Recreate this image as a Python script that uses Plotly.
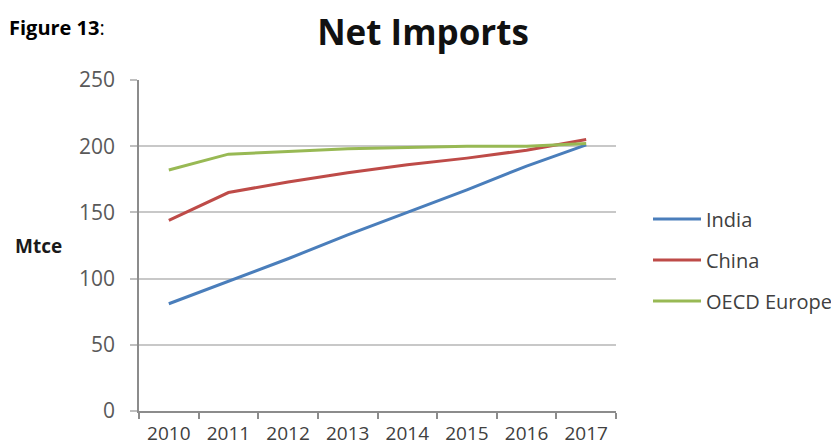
import plotly.graph_objects as go

years = ["2010", "2011", "2012", "2013", "2014", "2015", "2016", "2017"]
india = [81, 98, 115, 133, 150, 167, 185, 201]
china = [144, 165, 173, 180, 186, 191, 197, 205]
oecd_europe = [182, 194, 196, 198, 199, 200, 200, 202]

series = [
    ("India", india, "#4a7ebb"),
    ("China", china, "#be4b48"),
    ("OECD Europe", oecd_europe, "#98b954"),
]

FONT = "'Open Sans', sans-serif"

# page body has an 8px margin; size the figure so the plot lands where the reference has it
W, H = 831, 440
L, R, T, B = 131, 223, 72, 37
PW, PH = W - L - R, H - T - B


def px(xpage):
    return (xpage - 8 - L) / PW


def py(ypage):
    return (H - B - (ypage - 8)) / PH


fig = go.Figure()
for name, vals, color in series:
    fig.add_trace(go.Scatter(x=years, y=vals, name=name, mode="lines", legendgroup=name,
                             line=dict(color=color, width=3)))

fig.update_layout(
    width=W, height=H,
    margin=dict(l=L, r=R, t=T, b=B, autoexpand=False),
    paper_bgcolor="white", plot_bgcolor="white",
    font=dict(family=FONT, color="#595959"),
    title=dict(text="<b>Net Imports</b>", x=(423 - 8) / W, xanchor="center",
               y=1 - (33 - 8) / H, yanchor="middle",
               font=dict(size=35, color="#111111", family=FONT)),
    legend=dict(x=px(648), xanchor="left", y=py(260), yanchor="middle",
                font=dict(size=20, color="#404040", family=FONT),
                itemwidth=48, traceorder="grouped", tracegroupgap=12,
                bgcolor="rgba(0,0,0,0)"),
    showlegend=True,
)

fig.update_xaxes(type="category", range=[-0.5, 7.5], automargin=False,
                 tickson="boundaries", ticks="outside", ticklen=6,
                 tickcolor="#8c8c8c", tickwidth=1.5,
                 showline=True, linecolor="#8c8c8c", linewidth=1.5,
                 showgrid=False, tickfont=dict(size=19, color="#404040"),
                 ticklabelstandoff=4)
fig.update_yaxes(range=[0, 250], dtick=50, automargin=False,
                 ticks="outside", ticklen=7,
                 tickcolor="#bfbfbf", tickwidth=2,
                 showline=True, linecolor="#8c8c8c", linewidth=1.5,
                 showgrid=True, gridcolor="#c8c8c8", gridwidth=2,
                 zeroline=False, tickfont=dict(size=21, color="#595959"),
                 ticklabelstandoff=11)

fig.add_annotation(text="<b>Figure 13</b>:", xref="paper", yref="paper",
                   x=px(7), y=py(28), xanchor="left", yanchor="middle",
                   showarrow=False, font=dict(size=20, color="#000000", family=FONT))
fig.add_annotation(text="<b>Mtce</b>", xref="paper", yref="paper",
                   x=px(13), y=py(246), xanchor="left", yanchor="middle",
                   showarrow=False, font=dict(size=19, color="#1a1a1a", family=FONT))

fig.write_html("out.html")
